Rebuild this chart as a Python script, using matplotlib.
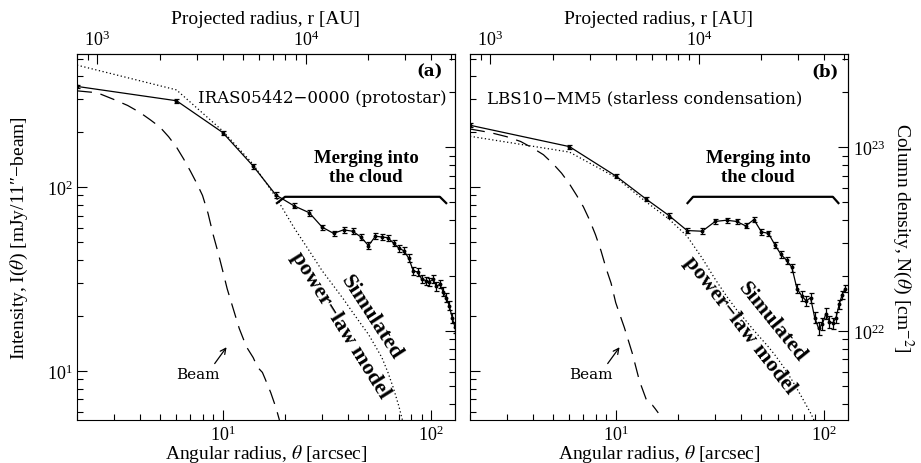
import matplotlib.pyplot as plt
import numpy as np
from matplotlib.ticker import FixedLocator, NullFormatter, LogFormatterSciNotation

plt.rcParams['font.family'] = ['Liberation Serif', 'DejaVu Serif']
plt.rcParams['mathtext.fontset'] = 'stix'

# ---- data ----
# observed profiles, sampled every 4 arcsec
theta_a = [2, 6, 10, 14, 18, 22, 26, 30, 34, 38, 42, 46, 50, 54, 58, 62, 66,
           70, 74, 78, 82, 86, 90, 94, 98, 102, 106, 110, 114, 118, 122, 126, 130]
obs_a = [353, 295, 198, 130, 90.5, 79, 72.5, 60.5, 56, 58.5, 57.5, 53.5, 48,
         54, 53.5, 53, 49.5, 46.5, 45, 41, 35, 34.5, 31.6, 31, 30.5, 31.5,
         28.8, 29.6, 27, 25, 22.6, 19.5, 17.3]
err_a = [8, 7, 5, 4, 3, 2.5, 2.5, 2, 2, 2, 2, 2, 2, 2, 2, 2, 2, 2, 2, 2,
         1.8, 1.8, 1.6, 1.6, 1.6, 1.6, 1.5, 1.5, 1.5, 1.4, 1.3, 1.2, 1.2]

theta_b = [2, 6, 10, 14, 18, 22, 26, 30, 34, 38, 42, 46, 50, 54, 58, 62, 66,
           70, 74, 78, 82, 86, 90, 94, 98, 102, 106, 110, 114, 118, 122, 126]
obs_b = [217, 166, 115, 86, 70, 58, 57.5, 65, 66, 65, 61.5, 66.5, 57, 56,
         48.5, 43, 40, 36.5, 28, 25.6, 24, 25, 19.5, 17, 18, 20.5, 18.5, 18.2,
         19.5, 23, 26, 28]
err_b = [5, 4, 3, 2.5, 2, 2, 2, 2, 2, 2, 2, 2, 2, 2, 2, 2, 1.8, 1.8, 1.6,
         1.6, 1.5, 1.5, 1.4, 1.4, 1.4, 1.4, 1.3, 1.3, 1.3, 1.3, 1.3, 1.3]

# simulated power-law model (dotted)
theta_mod_a = [2, 6, 10, 14, 18, 22, 26, 30, 34, 38, 42, 46, 50, 54, 58, 62,
               66, 70, 74]
model_a = [461, 338, 202, 133, 88, 60, 45, 35, 29, 24.5, 20.8, 18, 15.8,
           13.6, 11.8, 9.8, 8.0, 6.4, 5.0]
theta_mod_b = [2, 6, 10, 14, 18, 22, 26, 30, 34, 38, 42, 46, 50, 54, 58, 62,
               66, 70, 74, 78, 82, 86, 90]
model_b = [189, 155, 113, 83, 67, 54, 41, 31.5, 25.5, 21.5, 18.8, 16.6, 14.9,
           13.5, 12.2, 11, 9.9, 8.9, 8.0, 7.2, 6.5, 5.9, 5.3]

# beam profile (dashed)
theta_beam_a = [2, 2.5, 3, 3.5, 4, 4.5, 5, 5.5, 6, 6.5, 7, 7.5, 8, 8.5, 9,
                9.5, 10, 10.5, 11, 12, 13, 14, 14.5, 15, 15.5, 16, 17, 18, 18.7]
beam_a = [334, 326, 300, 278, 255, 232, 212, 188, 165, 142, 122, 105, 90, 72,
          55, 44, 35, 28, 23.5, 17, 13.5, 11.8, 10.8, 10.2, 9.8, 9.0, 7.6,
          6.3, 5.4]
theta_beam_b = [2, 2.5, 3, 3.5, 4, 4.5, 5, 5.5, 6, 6.5, 7, 7.5, 8, 8.5, 9,
                9.5, 10, 10.5, 11, 12, 13, 14, 14.5, 15, 15.5, 16]
beam_b = [207, 198, 188, 177, 163, 150, 134, 119, 104, 90, 78, 66, 55, 45,
          36, 30, 23.5, 20, 17.2, 12.5, 8.8, 7.0, 6.6, 6.5, 6.2, 5.9]

# "merging into the cloud" brackets
bracket_theta_a = [18.2, 19.9, 110, 118]
bracket_theta_b = [22.1, 23.5, 110, 117]
bracket_I = [81.8, 88.5, 88.5, 81.8]

# tick values
theta_major = [10, 100]
r_major = [1e3, 1e4]
I_major = [10, 100]
N_major = [1e22, 1e23]

DIST_PC = 400          # r[AU] = theta[arcsec] * d[pc]
N_PER_I = 6.06e20      # column density per mJy/beam
XLIM = (2, 130)
YLIM = (5.4, 530)


def minors(lo, hi):
    vals = []
    for e in range(int(np.floor(np.log10(lo))), int(np.ceil(np.log10(hi))) + 1):
        for s in range(2, 10):
            v = s * 10.0 ** e
            if lo <= v <= hi:
                vals.append(v)
    return vals


def style_axis(axis_obj, major, lo, hi, labels=True):
    axis_obj.set_major_locator(FixedLocator(major))
    axis_obj.set_minor_locator(FixedLocator(minors(lo, hi)))
    axis_obj.set_minor_formatter(NullFormatter())
    if labels:
        axis_obj.set_major_formatter(LogFormatterSciNotation())
    else:
        axis_obj.set_major_formatter(NullFormatter())


def ticks(obj):
    obj.tick_params(which='both', direction='in', labelsize=13, width=0.8)
    obj.tick_params(which='major', length=7)
    obj.tick_params(which='minor', length=4)


def draw_panel(ax, th, obs, err, thm, mod, thb, beam, br_th, letter, name,
               name_x, name_ha, left_labels, right_labels, simrot, txt):
    ax.set_xscale('log')
    ax.set_yscale('log')
    ax.set_xlim(*XLIM)
    ax.set_ylim(*YLIM)

    ax.errorbar(th, obs, yerr=err, color='k', lw=0.9, elinewidth=0.9,
                capsize=1.8, capthick=0.9, marker='o', ms=1.8)
    ax.plot(thm, mod, color='k', ls=(0, (1, 2)), lw=0.9)
    ax.plot(thb, beam, color='k', ls=(0, (12, 7)), lw=0.9)
    ax.plot(br_th, bracket_I, color='k', lw=1.6)

    ticks(ax)
    ax.tick_params(top=False, right=False, pad=3)
    style_axis(ax.xaxis, theta_major, *XLIM)
    style_axis(ax.yaxis, I_major, *YLIM, labels=left_labels)

    top = ax.secondary_xaxis('top', functions=(lambda t: t * DIST_PC,
                                               lambda r: r / DIST_PC))
    ticks(top)
    style_axis(top.xaxis, r_major, XLIM[0] * DIST_PC, XLIM[1] * DIST_PC)
    top.set_xlabel('Projected radius, r [AU]', fontsize=14, labelpad=5)

    right = ax.secondary_yaxis('right', functions=(lambda i: i * N_PER_I,
                                                   lambda n: n / N_PER_I))
    ticks(right)
    style_axis(right.yaxis, N_major, YLIM[0] * N_PER_I, YLIM[1] * N_PER_I,
               labels=right_labels)
    if right_labels:
        right.set_ylabel(r'Column density, N($\theta$) [cm$^{-2}$]',
                         fontsize=14, rotation=270, labelpad=22)

    ax.set_xlabel(r'Angular radius, $\theta$ [arcsec]', fontsize=14,
                  labelpad=-1)
    if left_labels:
        ax.set_ylabel('Intensity, I($\\theta$) [mJy/11\u2033\u2212beam]',
                      fontsize=14, labelpad=12)

    ax.text(txt['letter'], 0.954, letter, transform=ax.transAxes,
            ha='center', va='center', fontsize=12, fontweight='bold',
            family='DejaVu Serif')
    ax.text(name_x, 0.88, name, transform=ax.transAxes, ha=name_ha,
            va='center', fontsize=12, family='DejaVu Serif')
    ax.text(txt['merge'], 0.69, 'Merging into\nthe cloud',
            transform=ax.transAxes, ha='center', va='center', fontsize=13.5,
            fontweight='bold', linespacing=1.15)
    ax.text(txt['sim'][0], txt['sim'][1], 'Simulated', transform=ax.transAxes,
            ha='center', va='center', fontsize=16, fontweight='bold',
            rotation=simrot, rotation_mode='anchor')
    ax.text(txt['pl'][0], txt['pl'][1], 'power\u2212law model',
            transform=ax.transAxes, ha='center', va='center', fontsize=16,
            fontweight='bold', rotation=simrot - 1, rotation_mode='anchor')
    ax.text(0.32, 0.126, 'Beam', transform=ax.transAxes, ha='center',
            va='center', fontsize=11, family='DejaVu Serif')
    ax.annotate('', xy=(0.40, 0.205), xytext=(0.36, 0.148),
                xycoords='axes fraction', textcoords='axes fraction',
                arrowprops=dict(arrowstyle='->', lw=0.9, color='k'))


fig = plt.figure(figsize=(9.21, 4.64), dpi=100)
ax_a = fig.add_axes([0.0836, 0.0927, 0.4104, 0.7888])
ax_b = fig.add_axes([0.5103, 0.0927, 0.4104, 0.7888])

draw_panel(ax_a, theta_a, obs_a, err_a, theta_mod_a, model_a, theta_beam_a,
           beam_a, bracket_theta_a, '(a)', 'IRAS05442\u22120000 (protostar)',
           0.978, 'right', True, False, -57,
           dict(letter=0.934, merge=0.765, sim=(0.778, 0.281),
                pl=(0.696, 0.262)))
draw_panel(ax_b, theta_b, obs_b, err_b, theta_mod_b, model_b, theta_beam_b,
           beam_b, bracket_theta_b, '(b)',
           'LBS10\u2212MM5 (starless condensation)', 0.046, 'left', False,
           True, -51,
           dict(letter=0.939, merge=0.762, sim=(0.800, 0.268),
                pl=(0.714, 0.262)))

fig.savefig('out.png', dpi=100)
